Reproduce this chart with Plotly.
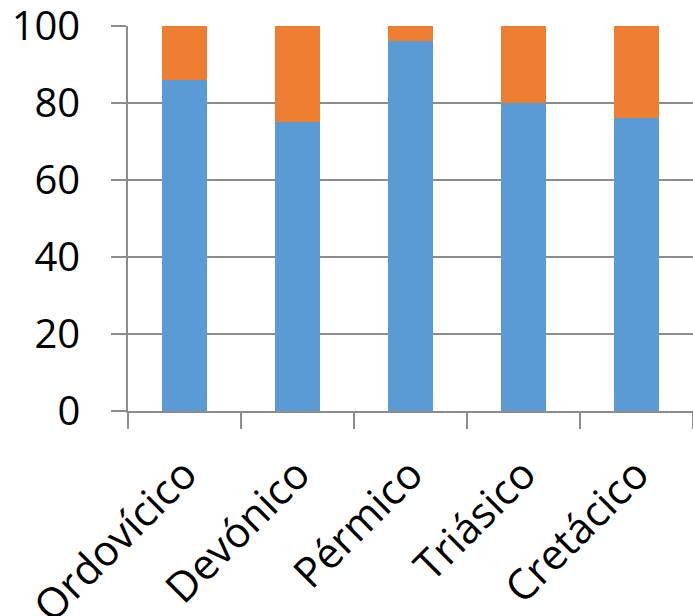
import plotly.graph_objects as go

# Share of each period's total (percent), split into two groups
periods = ["Ordovícico", "Devónico", "Pérmico", "Triásico", "Cretácico"]
serie_a = [86, 75, 96, 80, 76]
serie_b = [14, 25, 4, 20, 24]

AZUL = "#5B9BD5"
NARANJA = "#ED7D31"
GRIS = "#8C8C8C"

fig = go.Figure()
fig.add_trace(go.Bar(x=periods, y=serie_a, marker=dict(color=AZUL, line=dict(width=0)), name="A"))
fig.add_trace(go.Bar(x=periods, y=serie_b, marker=dict(color=NARANJA, line=dict(width=0)), name="B"))

fig.update_layout(
    barmode="stack",
    bargap=0.6,
    width=693,
    height=616,
    margin=dict(l=128, r=0, t=26, b=205),
    paper_bgcolor="white",
    plot_bgcolor="white",
    showlegend=False,
    font=dict(family="Open Sans", color="black"),
)
fig.update_xaxes(
    type="category",
    tickson="boundaries",
    ticks="outside",
    ticklen=16,
    tickwidth=1.5,
    tickcolor=GRIS,
    showline=True,
    linecolor=GRIS,
    linewidth=1.5,
    tickangle=-45,
    tickfont=dict(size=42),
    ticklabelstandoff=20,
    ticklabeloverflow="allow",
    automargin=False,
    showgrid=False,
)
fig.update_yaxes(
    range=[0, 100],
    tickvals=[0, 20, 40, 60, 80, 100],
    ticks="outside",
    ticklen=15,
    tickwidth=1.5,
    tickcolor=GRIS,
    showline=True,
    linecolor=GRIS,
    linewidth=1.5,
    showgrid=True,
    gridcolor=GRIS,
    gridwidth=1.5,
    tickfont=dict(size=40),
    ticklabelstandoff=23,
    ticklabeloverflow="allow",
    automargin=False,
    zeroline=False,
)

fig.write_html("out.html")
